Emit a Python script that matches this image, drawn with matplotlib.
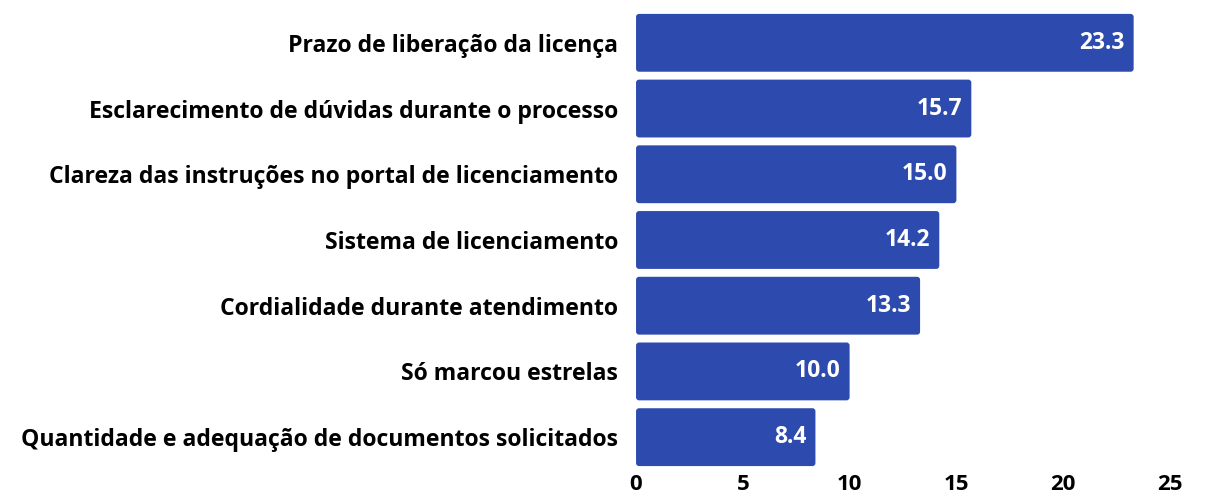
import matplotlib
matplotlib.use("Agg")
import matplotlib.pyplot as plt
from matplotlib.patches import FancyBboxPatch

categories = [
    "Prazo de liberação da licença",
    "Esclarecimento de dúvidas durante o processo",
    "Clareza das instruções no portal de licenciamento",
    "Sistema de licenciamento",
    "Cordialidade durante atendimento",
    "Só marcou estrelas",
    "Quantidade e adequação de documentos solicitados",
]
values = [23.3, 15.7, 15.0, 14.2, 13.3, 10.0, 8.4]
xticks = [0, 5, 10, 15, 20, 25]

color = "#2D4AAE"
plt.rcParams['font.family'] = ['Open Sans', 'DejaVu Sans']

fig = plt.figure(figsize=(12.06, 4.98), dpi=100)
ax = fig.add_axes([0.5274, 0.0562, 0.4427, 0.9238])

ypos = list(range(len(categories)))[::-1]
bars = ax.barh(ypos, values, height=0.88, color=color)

# replace with slightly rounded bars
for b in bars:
    x, y = b.get_x(), b.get_y()
    w, h = b.get_width(), b.get_height()
    b.set_visible(False)
    p = FancyBboxPatch((x, y), w, h,
                       boxstyle="round,pad=0,rounding_size=0.14",
                       mutation_aspect=0.33,
                       facecolor=color, edgecolor="none")
    ax.add_patch(p)

for yp, v in zip(ypos, values):
    ax.text(v - 0.42, yp, f"{v:.1f}", ha="right", va="center",
            color="white", fontsize=16.5, fontweight="bold")

ax.set_xlim(0, 25)
ax.set_ylim(-0.5, 6.5)
ax.set_yticks(ypos)
ax.set_yticklabels(categories, fontsize=16.6, fontweight="bold")
ax.set_xticks(xticks)
ax.set_xticklabels([str(t) for t in xticks], fontsize=16, fontweight="bold")
ax.tick_params(axis="both", length=0)
ax.tick_params(axis="y", pad=13)
ax.tick_params(axis="x", pad=3)
for s in ax.spines.values():
    s.set_visible(False)

fig.savefig("out.png", dpi=100)
